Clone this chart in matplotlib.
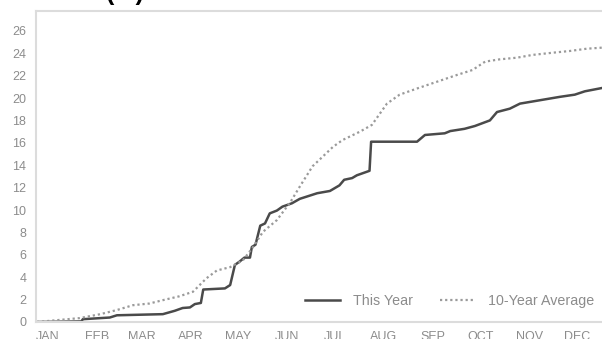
import matplotlib
matplotlib.use("Agg")
from matplotlib import pyplot as plt
import numpy as np

plt.rcParams['font.family'] = ['Liberation Sans', 'DejaVu Sans']

# day of year / cumulative inches
this_year_days = [0, 28, 29, 46, 50.5, 79.5, 87, 92, 96.6, 99.7, 103.5, 105, 118.7, 122, 125, 128,
                  131, 134.5, 135.7, 138, 141, 144, 147, 151.5, 155, 161, 166, 177, 185, 191, 194,
                  199, 202, 208, 210, 211, 240, 245, 257.5, 261, 270, 276.5, 286, 290.5, 298.6,
                  305, 317.5, 330, 339.6, 346, 357]
this_year_vals = [0, 0.05, 0.25, 0.4, 0.6, 0.7, 1.0, 1.25, 1.3, 1.6, 1.7, 2.9, 3.0, 3.3, 5.1, 5.4,
                  5.75, 5.75, 6.7, 6.9, 8.6, 8.8, 9.7, 9.95, 10.3, 10.6, 11.0, 11.5, 11.7, 12.2, 12.7,
                  12.85, 13.1, 13.4, 13.5, 16.1, 16.1, 16.7, 16.85, 17.05, 17.25, 17.5, 18.0, 18.75, 19.05,
                  19.5, 19.8, 20.1, 20.3, 20.6, 20.9]

avg_days = [0, 27, 40, 50.5, 60.6, 71, 79.5, 90, 98.5, 107, 113.6, 122, 130, 136, 142.7, 151.5,
            160, 166, 174, 187, 193, 204, 211.5, 221, 229, 240, 252.5, 265, 275, 283, 292, 303,
            313, 326, 336.5, 347, 357]
avg_vals = [0, 0.35, 0.7, 1.07, 1.5, 1.65, 1.95, 2.3, 2.7, 3.9, 4.6, 4.9, 5.5, 6.6, 8.05, 9.1,
            10.7, 12.1, 13.9, 15.65, 16.25, 17.0, 17.6, 19.5, 20.3, 20.85, 21.45, 22.05, 22.5, 23.25, 23.45, 23.6,
            23.85, 24.05, 24.2, 24.4, 24.5]

months = ['JAN', 'FEB', 'MAR', 'APR', 'MAY', 'JUN', 'JUL', 'AUG', 'SEP', 'OCT', 'NOV', 'DEC']
month_starts = [0, 31, 59, 90, 120, 151, 181, 212, 243, 273, 304, 334]

fig = plt.figure(figsize=(6.02, 3.39), dpi=100)
ax = fig.add_axes([36/602, 17/339, 579/602, 311/339])

ax.plot(this_year_days, this_year_vals, color='#4a4a4a', lw=1.8, label='This Year')
ax.plot(avg_days, avg_vals, color='#9a9a9a', lw=1.6, linestyle=(0, (1, 1.3)), label='10-Year Average')

ax.set_xlim(-0.6, 365)
ax.set_ylim(0, 27.77)
ax.set_yticks(np.arange(0, 27, 2))
ax.set_xticks([m + 7 for m in month_starts])
ax.set_xticklabels(months)
ax.tick_params(length=0, colors='#8c8c8c', labelsize=9)
ax.tick_params(axis='x', pad=6.5)
ax.tick_params(axis='y', pad=7)

for side in ['top', 'left', 'bottom']:
    ax.spines[side].set_color('#dcdcdc')
    ax.spines[side].set_linewidth(1.5)
ax.spines['right'].set_visible(False)

leg = ax.legend(loc='center left', bbox_to_anchor=(305/602, 1 - 301/339), bbox_transform=fig.transFigure,
                ncol=2, frameon=False, fontsize=10.3, handlelength=2.45, handletextpad=0.9,
                columnspacing=1.9, borderpad=0, borderaxespad=0)
for t in leg.get_texts():
    t.set_color('#8c8c8c')

fig.text(106/602, 1.0, '(in)', fontsize=18, fontweight='bold', va='baseline', ha='left')

fig.savefig('out.png', dpi=100)
